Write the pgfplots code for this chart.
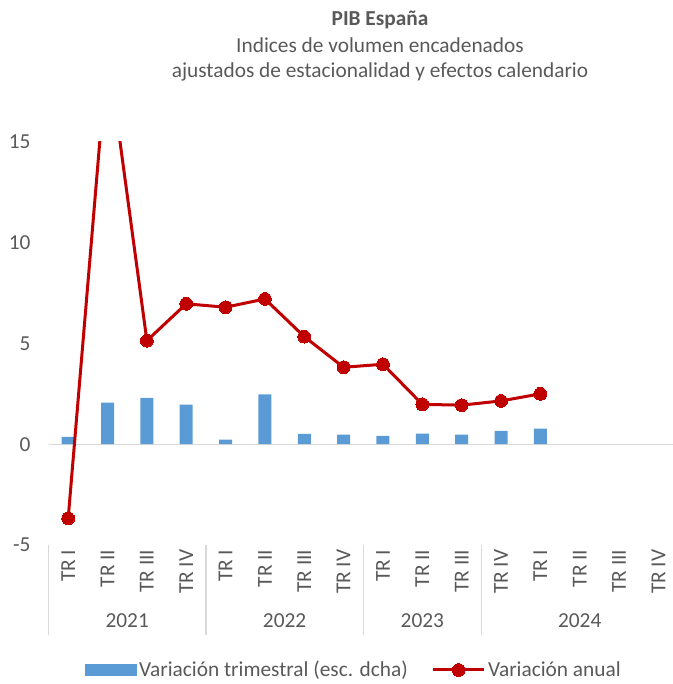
\documentclass[border=0pt]{standalone}
\usepackage{fontspec}
\setmainfont{Carlito}
\usepackage{pgfplots}
\pgfplotsset{compat=1.18}
\definecolor{barblue}{HTML}{5B9BD5}
\definecolor{linered}{HTML}{C00000}
\definecolor{txt}{HTML}{595959}
\definecolor{gridc}{HTML}{D9D9D9}
\newcommand\cf{\fontsize{16}{19}\selectfont}
\begin{document}
\begin{tikzpicture}
\path[use as bounding box] (0pt,0pt) rectangle (504.75pt,513pt);
\begin{axis}[
  at={(36.375pt,104.25pt)}, anchor=south west,
  scale only axis, width=472.2pt, height=302.25pt,
  xmin=-0.5, xmax=15.5, ymin=-5, ymax=15,
  axis line style={draw=none},
  clip marker paths=true,
  ytick={-5,0,5,10,15},
  ytick style={draw=none},
  yticklabel style={font=\cf, text=txt, xshift=-10pt},
  /pgf/number format/assume math mode=true,
  xtick={0,...,15},
  xticklabels={TR I,TR II,TR III,TR IV,TR I,TR II,TR III,TR IV,TR I,TR II,TR III,TR IV,TR I,TR II,TR III,TR IV},
  xtick pos=bottom,
  major tick length=0pt,
  x tick label style={font=\cf, text=txt, rotate=90, anchor=east},
  extra x ticks={-0.5,3.5,7.5,10.5,15.5},
  extra x tick labels={},
  extra x tick style={major tick length=67.5pt, tick align=outside, tick style={draw=gridc, line width=1.1pt}},
  extra y ticks={0},
  extra y tick labels={},
  extra y tick style={grid=major, major grid style={draw=gridc, line width=1.1pt}},
  legend columns=2,
  legend style={at={(0.4852,-0.310)}, anchor=center, draw=none, fill=none, font=\cf, text=txt,
    /tikz/every even column/.append style={column sep=16pt}},
]
\addplot[ybar, bar width=9.75pt, fill=barblue, draw=none,
  legend image code/.code={\fill[barblue] (0pt,-4.5pt) rectangle (39pt,4.5pt);}]
  coordinates {(0,0.36) (1,2.07) (2,2.30) (3,1.97) (4,0.23) (5,2.47) (6,0.51) (7,0.48) (8,0.41) (9,0.53) (10,0.48) (11,0.66) (12,0.78)};
\addlegendentry{Variación trimestral (esc. dcha)}
\addplot[linered, line width=2.25pt, mark=*, mark size=4.8pt, mark options={solid, fill=linered, draw=linered, line width=0pt},
  legend image code/.code={\draw[mark repeat=2,mark phase=2] plot coordinates {(0pt,0pt) (19pt,0pt) (38pt,0pt)};}]
  coordinates {(0,-3.68) (1,19.6) (2,5.14) (3,6.97) (4,6.80) (5,7.21) (6,5.34) (7,3.82) (8,3.97) (9,1.98) (10,1.94) (11,2.15) (12,2.50)};
\addlegendentry{Variación anual}
\coordinate (g1) at (axis cs:1.5,-5);
\coordinate (g2) at (axis cs:5.5,-5);
\coordinate (g3) at (axis cs:9,-5);
\coordinate (g4) at (axis cs:13,-5);
\end{axis}
\foreach \g/\t in {g1/2021,g2/2022,g3/2023,g4/2024}{
  \node[font=\cf, text=txt] at ([yshift=-57pt]\g) {\t};
}
\node[font=\cf\bfseries, text=txt] at (285pt,498pt) {PIB España};
\node[font=\cf, text=txt] at (285pt,479pt) {Indices de volumen encadenados};
\node[font=\cf, text=txt] at (285pt,459pt) {ajustados de estacionalidad y efectos calendario};
\end{tikzpicture}
\end{document}
